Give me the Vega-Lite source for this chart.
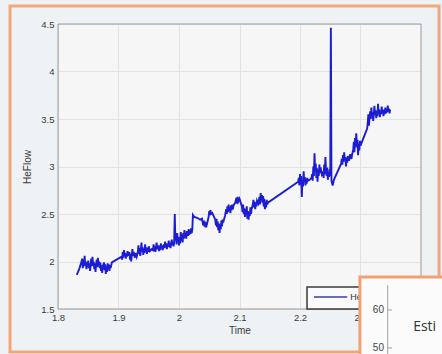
{
  "$schema": "https://vega.github.io/schema/vega-lite/v6.json",
  "width": 363,
  "height": 285,
  "autosize": {"type": "none"},
  "padding": {"left": 58, "top": 24, "right": 21, "bottom": 45},
  "background": "#eff2f4",
  "config": {
    "view": {"fill": "#f6f6f6", "stroke": null},
    "font": "Liberation Sans"
  },
  "datasets": {
    "frame": [{"t": 1.7207, "t2": 2.4298, "v": 4.689, "v2": 1.047}],
    "box": [{"t": 1.8, "t2": 2.4, "v": 1.5, "v2": 4.5}],
    "legendbox": [{"t": 2.2116, "t2": 2.37, "v": 1.5, "v2": 1.732}],
    "legendline": [{"t": 2.223, "t2": 2.278, "v": 1.626}],
    "legendtext": [{"t": 2.283, "v": 1.626, "label": "HeFlow"}],
    "inset": [{"t": 2.299, "t2": 2.5, "v": 1.837, "v2": 0.8}],
    "insetaxis": [{"t": 2.345, "v": 1.75, "v2": 0.9}],
    "insetticks": [{"t": 2.345, "t2": 2.352, "v": 1.49}, {"t": 2.345, "t2": 2.352, "v": 1.09}],
    "insetlabels": [{"t": 2.3388, "v": 1.49, "label": "60"}, {"t": 2.3388, "v": 1.09, "label": "50"}],
    "insettext": [{"t": 2.387, "v": 1.31, "label": "Esti"}],
    "heflow": [
      {"t": 1.831, "v": 1.86}, {"t": 1.835, "v": 1.92}, {"t": 1.838, "v": 1.98}, {"t": 1.840, "v": 2.03}, {"t": 1.841, "v": 1.93}, {"t": 1.842, "v": 2.02}, {"t": 1.843, "v": 1.95}, {"t": 1.844, "v": 2.06}, {"t": 1.845, "v": 1.96}, {"t": 1.846, "v": 2.0}, {"t": 1.847, "v": 1.92}, {"t": 1.848, "v": 1.99}, {"t": 1.849, "v": 1.94}, {"t": 1.850, "v": 2.01}, {"t": 1.851, "v": 1.93}, {"t": 1.852, "v": 1.98}, {"t": 1.853, "v": 1.90}, {"t": 1.854, "v": 1.97}, {"t": 1.855, "v": 2.03}, {"t": 1.856, "v": 1.95}, {"t": 1.857, "v": 2.05}, {"t": 1.858, "v": 1.96}, {"t": 1.859, "v": 2.0}, {"t": 1.860, "v": 1.92}, {"t": 1.861, "v": 1.98}, {"t": 1.862, "v": 1.89}, {"t": 1.863, "v": 1.97}, {"t": 1.864, "v": 2.02}, {"t": 1.865, "v": 1.94}, {"t": 1.866, "v": 2.04}, {"t": 1.867, "v": 1.95}, {"t": 1.868, "v": 2.0}, {"t": 1.869, "v": 1.93}, {"t": 1.870, "v": 1.99}, {"t": 1.871, "v": 1.90}, {"t": 1.872, "v": 1.96}, {"t": 1.873, "v": 1.88}, {"t": 1.874, "v": 1.95}, {"t": 1.876, "v": 1.99}, {"t": 1.877, "v": 1.91}, {"t": 1.878, "v": 1.97}, {"t": 1.879, "v": 1.87}, {"t": 1.880, "v": 1.95}, {"t": 1.881, "v": 1.89}, {"t": 1.882, "v": 1.98}, {"t": 1.883, "v": 1.92}, {"t": 1.884, "v": 1.97}, {"t": 1.885, "v": 1.90}, {"t": 1.886, "v": 1.96}, {"t": 1.887, "v": 1.93}, {"t": 1.889, "v": 1.99},
      {"t": 1.905, "v": 2.05},
      {"t": 1.906, "v": 2.02}, {"t": 1.907, "v": 2.1}, {"t": 1.908, "v": 2.04}, {"t": 1.909, "v": 2.12}, {"t": 1.910, "v": 2.06}, {"t": 1.911, "v": 2.09}, {"t": 1.912, "v": 2.03}, {"t": 1.913, "v": 2.08}, {"t": 1.914, "v": 2.05}, {"t": 1.915, "v": 2.11}, {"t": 1.916, "v": 2.06}, {"t": 1.918, "v": 2.1}, {"t": 1.919, "v": 2.02}, {"t": 1.920, "v": 2.08}, {"t": 1.921, "v": 2.0}, {"t": 1.922, "v": 2.07}, {"t": 1.923, "v": 2.13}, {"t": 1.924, "v": 2.06}, {"t": 1.925, "v": 2.1}, {"t": 1.927, "v": 2.04}, {"t": 1.928, "v": 2.09}, {"t": 1.930, "v": 2.05},
      {"t": 1.932, "v": 2.1}, {"t": 1.933, "v": 2.17}, {"t": 1.934, "v": 2.08}, {"t": 1.935, "v": 2.14}, {"t": 1.936, "v": 2.06}, {"t": 1.937, "v": 2.12}, {"t": 1.938, "v": 2.2}, {"t": 1.939, "v": 2.1}, {"t": 1.940, "v": 2.15}, {"t": 1.941, "v": 2.07}, {"t": 1.942, "v": 2.13}, {"t": 1.943, "v": 2.09}, {"t": 1.944, "v": 2.18}, {"t": 1.945, "v": 2.11}, {"t": 1.946, "v": 2.15}, {"t": 1.947, "v": 2.08}, {"t": 1.948, "v": 2.14}, {"t": 1.949, "v": 2.1}, {"t": 1.950, "v": 2.16}, {"t": 1.952, "v": 2.11},
      {"t": 1.955, "v": 2.13},
      {"t": 1.957, "v": 2.12}, {"t": 1.958, "v": 2.18}, {"t": 1.959, "v": 2.11}, {"t": 1.960, "v": 2.16}, {"t": 1.961, "v": 2.1}, {"t": 1.962, "v": 2.15}, {"t": 1.963, "v": 2.2}, {"t": 1.964, "v": 2.13}, {"t": 1.966, "v": 2.17}, {"t": 1.967, "v": 2.11}, {"t": 1.968, "v": 2.16}, {"t": 1.969, "v": 2.12}, {"t": 1.970, "v": 2.19}, {"t": 1.971, "v": 2.14}, {"t": 1.972, "v": 2.17}, {"t": 1.973, "v": 2.12}, {"t": 1.975, "v": 2.18}, {"t": 1.976, "v": 2.14}, {"t": 1.977, "v": 2.21}, {"t": 1.978, "v": 2.15}, {"t": 1.979, "v": 2.19}, {"t": 1.980, "v": 2.13}, {"t": 1.981, "v": 2.18}, {"t": 1.982, "v": 2.16}, {"t": 1.983, "v": 2.22}, {"t": 1.984, "v": 2.15}, {"t": 1.985, "v": 2.2}, {"t": 1.986, "v": 2.14}, {"t": 1.987, "v": 2.19}, {"t": 1.988, "v": 2.23}, {"t": 1.989, "v": 2.17}, {"t": 1.990, "v": 2.21}, {"t": 1.991, "v": 2.16},
      {"t": 1.992, "v": 2.2}, {"t": 1.993, "v": 2.5}, {"t": 1.994, "v": 2.22},
      {"t": 1.995, "v": 2.28}, {"t": 1.996, "v": 2.18}, {"t": 1.997, "v": 2.3}, {"t": 1.998, "v": 2.2}, {"t": 1.999, "v": 2.26}, {"t": 2.000, "v": 2.17}, {"t": 2.001, "v": 2.25}, {"t": 2.002, "v": 2.19}, {"t": 2.003, "v": 2.31}, {"t": 2.004, "v": 2.22}, {"t": 2.005, "v": 2.28}, {"t": 2.006, "v": 2.2}, {"t": 2.007, "v": 2.3}, {"t": 2.008, "v": 2.24}, {"t": 2.009, "v": 2.33}, {"t": 2.010, "v": 2.25}, {"t": 2.011, "v": 2.3}, {"t": 2.012, "v": 2.24}, {"t": 2.013, "v": 2.32}, {"t": 2.015, "v": 2.27}, {"t": 2.016, "v": 2.34}, {"t": 2.017, "v": 2.28}, {"t": 2.018, "v": 2.33}, {"t": 2.019, "v": 2.29}, {"t": 2.020, "v": 2.35}, {"t": 2.021, "v": 2.3}, {"t": 2.022, "v": 2.34},
      {"t": 2.023, "v": 2.49}, {"t": 2.025, "v": 2.47}, {"t": 2.030, "v": 2.46}, {"t": 2.035, "v": 2.44}, {"t": 2.038, "v": 2.45},
      {"t": 2.040, "v": 2.38}, {"t": 2.041, "v": 2.43}, {"t": 2.042, "v": 2.37}, {"t": 2.043, "v": 2.42}, {"t": 2.044, "v": 2.36}, {"t": 2.045, "v": 2.41}, {"t": 2.046, "v": 2.39},
      {"t": 2.049, "v": 2.47}, {"t": 2.050, "v": 2.53}, {"t": 2.051, "v": 2.49}, {"t": 2.052, "v": 2.54}, {"t": 2.053, "v": 2.5}, {"t": 2.055, "v": 2.51}, {"t": 2.058, "v": 2.47},
      {"t": 2.060, "v": 2.44}, {"t": 2.061, "v": 2.38}, {"t": 2.062, "v": 2.45}, {"t": 2.063, "v": 2.36}, {"t": 2.064, "v": 2.42}, {"t": 2.065, "v": 2.33}, {"t": 2.066, "v": 2.4}, {"t": 2.067, "v": 2.3}, {"t": 2.068, "v": 2.38}, {"t": 2.069, "v": 2.34}, {"t": 2.070, "v": 2.43}, {"t": 2.071, "v": 2.37}, {"t": 2.072, "v": 2.44}, {"t": 2.073, "v": 2.41},
      {"t": 2.076, "v": 2.48}, {"t": 2.078, "v": 2.55}, {"t": 2.079, "v": 2.5}, {"t": 2.080, "v": 2.58}, {"t": 2.081, "v": 2.52}, {"t": 2.082, "v": 2.6}, {"t": 2.083, "v": 2.53}, {"t": 2.084, "v": 2.57}, {"t": 2.085, "v": 2.51}, {"t": 2.086, "v": 2.59}, {"t": 2.087, "v": 2.54}, {"t": 2.088, "v": 2.6}, {"t": 2.089, "v": 2.55}, {"t": 2.090, "v": 2.59},
      {"t": 2.093, "v": 2.62}, {"t": 2.095, "v": 2.67}, {"t": 2.096, "v": 2.61}, {"t": 2.097, "v": 2.68}, {"t": 2.098, "v": 2.63}, {"t": 2.100, "v": 2.66}, {"t": 2.102, "v": 2.62},
      {"t": 2.104, "v": 2.58}, {"t": 2.105, "v": 2.52}, {"t": 2.106, "v": 2.6}, {"t": 2.107, "v": 2.5}, {"t": 2.108, "v": 2.56}, {"t": 2.109, "v": 2.47}, {"t": 2.110, "v": 2.55}, {"t": 2.111, "v": 2.49}, {"t": 2.112, "v": 2.58}, {"t": 2.113, "v": 2.45}, {"t": 2.114, "v": 2.53}, {"t": 2.115, "v": 2.44}, {"t": 2.116, "v": 2.52}, {"t": 2.117, "v": 2.48}, {"t": 2.118, "v": 2.57}, {"t": 2.119, "v": 2.5}, {"t": 2.120, "v": 2.55},
      {"t": 2.122, "v": 2.6}, {"t": 2.123, "v": 2.65}, {"t": 2.124, "v": 2.57}, {"t": 2.125, "v": 2.63}, {"t": 2.126, "v": 2.55}, {"t": 2.127, "v": 2.62}, {"t": 2.128, "v": 2.58}, {"t": 2.129, "v": 2.64},
      {"t": 2.131, "v": 2.61}, {"t": 2.133, "v": 2.68}, {"t": 2.134, "v": 2.6}, {"t": 2.135, "v": 2.72}, {"t": 2.136, "v": 2.64}, {"t": 2.137, "v": 2.7}, {"t": 2.138, "v": 2.62}, {"t": 2.139, "v": 2.69}, {"t": 2.140, "v": 2.58}, {"t": 2.141, "v": 2.66}, {"t": 2.142, "v": 2.55}, {"t": 2.143, "v": 2.63}, {"t": 2.144, "v": 2.57}, {"t": 2.145, "v": 2.65}, {"t": 2.146, "v": 2.6}, {"t": 2.147, "v": 2.62},
      {"t": 2.197, "v": 2.84},
      {"t": 2.198, "v": 2.88}, {"t": 2.199, "v": 2.8}, {"t": 2.200, "v": 2.92}, {"t": 2.201, "v": 2.83}, {"t": 2.202, "v": 2.9}, {"t": 2.203, "v": 2.68}, {"t": 2.204, "v": 2.86}, {"t": 2.205, "v": 2.79}, {"t": 2.206, "v": 2.95}, {"t": 2.207, "v": 2.84}, {"t": 2.208, "v": 2.89}, {"t": 2.209, "v": 2.8}, {"t": 2.210, "v": 2.87}, {"t": 2.211, "v": 2.82}, {"t": 2.212, "v": 2.88}, {"t": 2.213, "v": 2.85},
      {"t": 2.216, "v": 2.86}, {"t": 2.219, "v": 2.88},
      {"t": 2.220, "v": 2.92}, {"t": 2.221, "v": 2.85}, {"t": 2.222, "v": 3.0}, {"t": 2.223, "v": 2.9}, {"t": 2.224, "v": 3.14}, {"t": 2.225, "v": 2.95}, {"t": 2.226, "v": 3.03}, {"t": 2.227, "v": 2.88}, {"t": 2.228, "v": 2.98}, {"t": 2.229, "v": 2.84}, {"t": 2.230, "v": 2.96}, {"t": 2.231, "v": 2.9}, {"t": 2.232, "v": 3.02}, {"t": 2.233, "v": 2.93}, {"t": 2.234, "v": 2.99}, {"t": 2.236, "v": 2.92},
      {"t": 2.238, "v": 2.95}, {"t": 2.239, "v": 2.88}, {"t": 2.240, "v": 3.02}, {"t": 2.241, "v": 2.92}, {"t": 2.242, "v": 3.1}, {"t": 2.243, "v": 2.96}, {"t": 2.244, "v": 2.9}, {"t": 2.245, "v": 2.99}, {"t": 2.246, "v": 2.86}, {"t": 2.247, "v": 2.94}, {"t": 2.248, "v": 2.89}, {"t": 2.249, "v": 2.97}, {"t": 2.250, "v": 2.9},
      {"t": 2.251, "v": 4.46}, {"t": 2.252, "v": 2.85}, {"t": 2.254, "v": 2.8}, {"t": 2.256, "v": 2.86},
      {"t": 2.268, "v": 3.03},
      {"t": 2.269, "v": 3.08}, {"t": 2.270, "v": 3.02}, {"t": 2.271, "v": 3.12}, {"t": 2.272, "v": 3.05}, {"t": 2.273, "v": 3.15}, {"t": 2.274, "v": 3.07}, {"t": 2.275, "v": 3.1}, {"t": 2.276, "v": 3.0}, {"t": 2.277, "v": 3.09}, {"t": 2.278, "v": 3.04}, {"t": 2.279, "v": 3.11}, {"t": 2.281, "v": 3.06}, {"t": 2.283, "v": 3.13}, {"t": 2.285, "v": 3.08}, {"t": 2.286, "v": 3.12},
      {"t": 2.288, "v": 3.18}, {"t": 2.289, "v": 3.26}, {"t": 2.290, "v": 3.15}, {"t": 2.291, "v": 3.3}, {"t": 2.292, "v": 3.2}, {"t": 2.293, "v": 3.35}, {"t": 2.294, "v": 3.22}, {"t": 2.295, "v": 3.28}, {"t": 2.296, "v": 3.12}, {"t": 2.297, "v": 3.24}, {"t": 2.298, "v": 3.17}, {"t": 2.299, "v": 3.27}, {"t": 2.300, "v": 3.22},
      {"t": 2.311, "v": 3.4},
      {"t": 2.312, "v": 3.46}, {"t": 2.313, "v": 3.55}, {"t": 2.314, "v": 3.43}, {"t": 2.315, "v": 3.52}, {"t": 2.316, "v": 3.58}, {"t": 2.317, "v": 3.5}, {"t": 2.318, "v": 3.62}, {"t": 2.319, "v": 3.53}, {"t": 2.320, "v": 3.57}, {"t": 2.321, "v": 3.48}, {"t": 2.322, "v": 3.55}, {"t": 2.323, "v": 3.64}, {"t": 2.324, "v": 3.54}, {"t": 2.325, "v": 3.59}, {"t": 2.326, "v": 3.51}, {"t": 2.327, "v": 3.57}, {"t": 2.328, "v": 3.53}, {"t": 2.329, "v": 3.66}, {"t": 2.330, "v": 3.56}, {"t": 2.331, "v": 3.6}, {"t": 2.332, "v": 3.52}, {"t": 2.333, "v": 3.58}, {"t": 2.334, "v": 3.55}, {"t": 2.335, "v": 3.63}, {"t": 2.336, "v": 3.56}, {"t": 2.337, "v": 3.6}, {"t": 2.338, "v": 3.53}, {"t": 2.339, "v": 3.59}, {"t": 2.340, "v": 3.55}, {"t": 2.341, "v": 3.62}, {"t": 2.342, "v": 3.56}, {"t": 2.343, "v": 3.6}, {"t": 2.344, "v": 3.57}, {"t": 2.345, "v": 3.64}, {"t": 2.346, "v": 3.58}, {"t": 2.347, "v": 3.61}, {"t": 2.348, "v": 3.56}, {"t": 2.349, "v": 3.6}
    ]
  },
  "encoding": {
    "x": {"field": "t", "type": "quantitative", "scale": {"domain": [1.8, 2.4], "nice": false, "zero": false},
      "axis": {"title": "Time", "values": [1.8, 1.9, 2, 2.1, 2.2, 2.3], "format": "~g", "grid": true, "gridColor": "#e2e2e2", "domain": false, "ticks": false, "labelPadding": 3, "labelFontSize": 9.5, "titleFontSize": 10, "titlePadding": 4, "labelColor": "#3a3a3a", "titleColor": "#3a3a3a", "titleFontWeight": "normal", "labelFlush": false}},
    "y": {"field": "v", "type": "quantitative", "scale": {"domain": [1.5, 4.5], "nice": false, "zero": false},
      "axis": {"title": "HeFlow", "values": [1.5, 2, 2.5, 3, 3.5, 4, 4.5], "format": "~g", "grid": true, "gridColor": "#e2e2e2", "domain": false, "ticks": false, "labelPadding": 4, "labelFontSize": 9.5, "titleFontSize": 10, "titlePadding": 8, "labelColor": "#3a3a3a", "titleColor": "#3a3a3a", "titleFontWeight": "normal", "labelFlush": false}}
  },
  "layer": [
    {
      "data": {"name": "frame"},
      "mark": {"type": "rect", "fill": null, "fillOpacity": 0, "stroke": "#f4a57a", "strokeWidth": 3, "clip": false},
      "encoding": {"x2": {"field": "t2"}, "y2": {"field": "v2"}}
    },
    {
      "data": {"name": "box"},
      "mark": {"type": "rect", "fill": null, "fillOpacity": 0, "stroke": "#9a9a9a", "strokeWidth": 1, "clip": false},
      "encoding": {"x2": {"field": "t2"}, "y2": {"field": "v2"}}
    },
    {
      "data": {"name": "heflow"},
      "mark": {"type": "line", "color": "#1c1cd2", "strokeWidth": 1.9, "clip": false},
      "encoding": {}
    },
    {
      "data": {"name": "legendbox"},
      "mark": {"type": "rect", "fill": "#fafafa", "stroke": "#3a3a3a", "strokeWidth": 1.5, "clip": false},
      "encoding": {"x2": {"field": "t2"}, "y2": {"field": "v2"}}
    },
    {
      "data": {"name": "legendline"},
      "mark": {"type": "rule", "color": "#6c6cb4", "strokeWidth": 2, "clip": false},
      "encoding": {"x2": {"field": "t2"}}
    },
    {
      "data": {"name": "legendtext"},
      "mark": {"type": "text", "align": "left", "baseline": "middle", "fontSize": 9, "color": "#333333", "clip": false},
      "encoding": {"text": {"field": "label"}}
    },
    {
      "data": {"name": "inset"},
      "mark": {"type": "rect", "fill": "#fbfbfb", "stroke": "#f2a272", "strokeWidth": 3, "clip": false},
      "encoding": {"x2": {"field": "t2"}, "y2": {"field": "v2"}}
    },
    {
      "data": {"name": "insetaxis"},
      "mark": {"type": "rule", "color": "#a0a0a0", "strokeWidth": 1, "clip": false},
      "encoding": {"y2": {"field": "v2"}}
    },
    {
      "data": {"name": "insetticks"},
      "mark": {"type": "rule", "color": "#a0a0a0", "strokeWidth": 1, "clip": false},
      "encoding": {"x2": {"field": "t2"}}
    },
    {
      "data": {"name": "insetlabels"},
      "mark": {"type": "text", "align": "right", "baseline": "middle", "fontSize": 10, "color": "#444444", "clip": false},
      "encoding": {"text": {"field": "label"}}
    },
    {
      "data": {"name": "insettext"},
      "mark": {"type": "text", "align": "left", "baseline": "middle", "fontSize": 14, "color": "#333333", "font": "Open Sans", "clip": false},
      "encoding": {"text": {"field": "label"}}
    }
  ]
}
